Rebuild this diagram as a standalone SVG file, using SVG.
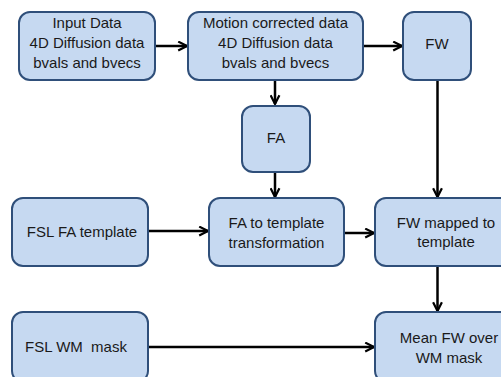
<svg xmlns="http://www.w3.org/2000/svg" width="501" height="377" viewBox="0 0 501 377">
<style>
.box{fill:#c6d9f1;stroke:#2f4f7a;stroke-width:2}
.t{font-family:"Liberation Sans",Arial,sans-serif;font-size:15px;fill:#1a1a1a;text-anchor:middle;white-space:pre}
.c{stroke:#000;stroke-width:2.5;fill:none;marker-end:url(#ah)}
</style>
<defs>
<marker id="ah" viewBox="0 0 10 10" refX="9" refY="5" markerWidth="4.4" markerHeight="4.4" orient="auto" markerUnits="strokeWidth">
<path d="M1,1 L9,5 L1,9" fill="none" stroke="#000" stroke-width="2"/>
</marker>
</defs>
<rect width="501" height="377" fill="#fff"/>
<g id="connectors">
<line class="c" x1="155" y1="46" x2="187" y2="46"/>
<line class="c" x1="363" y1="46" x2="402" y2="46"/>
<line class="c" x1="275" y1="80" x2="275" y2="104"/>
<line class="c" x1="437.5" y1="80" x2="437.5" y2="197"/>
<line class="c" x1="275" y1="172" x2="275" y2="197"/>
<line class="c" x1="148" y1="231" x2="208" y2="231"/>
<line class="c" x1="344" y1="233" x2="374" y2="233"/>
<line class="c" x1="437.5" y1="266" x2="437.5" y2="311"/>
<line class="c" x1="148" y1="347" x2="374" y2="347"/>
</g>
<g id="input">
<rect class="box" x="19" y="12" width="136" height="68" rx="11"/>
<text class="t" x="87" y="28">Input Data</text>
<text class="t" x="87" y="48">4D Diffusion data</text>
<text class="t" x="87" y="68">bvals and bvecs</text>
</g>
<g id="motion">
<rect class="box" x="188" y="12" width="175" height="68" rx="11"/>
<text class="t" x="275.5" y="28">Motion corrected data</text>
<text class="t" x="275.5" y="48">4D Diffusion data</text>
<text class="t" x="275.5" y="68">bvals and bvecs</text>
</g>
<g id="fw">
<rect class="box" x="403" y="12" width="68" height="68" rx="11"/>
<text class="t" x="437" y="49">FW</text>
</g>
<g id="fa">
<rect class="box" x="242" y="106" width="68" height="66" rx="11"/>
<text class="t" x="276" y="143">FA</text>
</g>
<g id="fslfa">
<rect class="box" x="12" y="198" width="136" height="68" rx="11"/>
<text class="t" x="82" y="237">FSL FA template</text>
</g>
<g id="fatotemplate">
<rect class="box" x="209" y="198" width="135" height="68" rx="11"/>
<text class="t" x="276.5" y="228">FA to template</text>
<text class="t" x="276.5" y="248">transformation</text>
</g>
<g id="fwmapped">
<rect class="box" x="375" y="198" width="140" height="68" rx="11"/>
<text class="t" x="446" y="228">FW mapped to</text>
<text class="t" x="446" y="247">template</text>
</g>
<g id="fslwm">
<rect class="box" x="12" y="312" width="136" height="70" rx="11"/>
<text class="t" x="76" y="352">FSL WM  mask</text>
</g>
<g id="meanfw">
<rect class="box" x="375" y="312" width="146" height="70" rx="11"/>
<text class="t" x="449" y="343">Mean FW over</text>
<text class="t" x="449" y="363">WM mask</text>
</g>
</svg>
